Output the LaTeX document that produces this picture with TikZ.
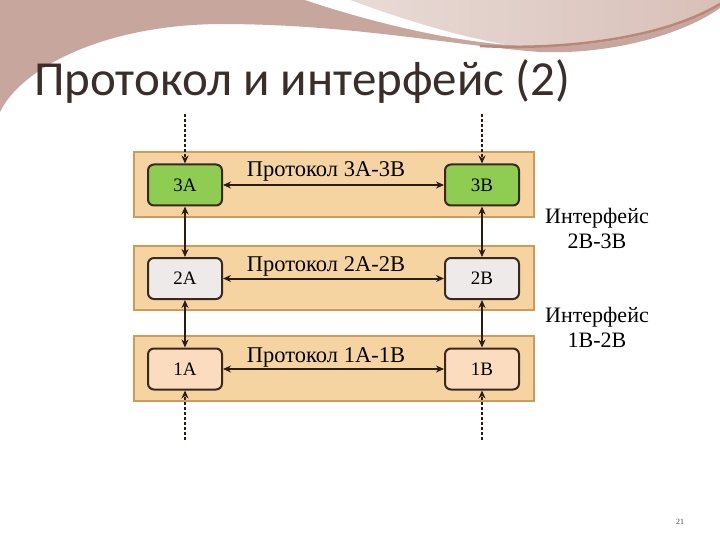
\documentclass[tikz,border=0pt]{standalone}
\usepackage{fontspec}
\setmainfont{Liberation Serif}
\newfontfamily\titlefont{Carlito}
\usetikzlibrary{arrows.meta}
\definecolor{pinkbg}{RGB}{199,167,157}
\definecolor{lightbg}{RGB}{216,192,184}
\definecolor{brownln}{RGB}{185,135,120}
\definecolor{bandfill}{RGB}{246,212,162}
\definecolor{banddraw}{RGB}{208,155,90}
\definecolor{greenbox}{RGB}{142,204,82}
\definecolor{graybox}{RGB}{238,234,233}
\definecolor{peachbox}{RGB}{251,220,190}
\definecolor{boxline}{RGB}{58,40,30}
\definecolor{arrowc}{RGB}{40,28,20}
\definecolor{titlec}{RGB}{58,46,42}
\tikzset{
  band/.style={fill=bandfill,draw=banddraw,line width=1.5pt},
  layerbox/.style={draw=boxline,line width=2pt,rounded corners=6pt,minimum width=74pt,minimum height=41pt,inner sep=0pt,font=\fontsize{19}{19}\selectfont},
  link/.style={draw=arrowc,line width=2pt,{Stealth[length=8pt,width=7pt]}-{Stealth[length=8pt,width=7pt]}},
  feed/.style={draw=arrowc,line width=2pt,dash pattern=on 3pt off 2pt,-{Stealth[length=8pt,width=7pt]}},
  prot/.style={anchor=base,font=\fontsize{22.5}{22.5}\selectfont,inner sep=0pt},
  intf/.style={anchor=base,font=\fontsize{22}{22}\selectfont,inner sep=0pt,align=center}
}
\begin{document}
\begin{tikzpicture}[x=1pt,y=-1pt]
\useasboundingbox (0,0) rectangle (720,540);
\fill[white] (0,0) rectangle (720,540);
% decoration
\fill[pinkbg] (0,112) .. controls (20,70) and (100,25) .. (220,24) .. controls (350,24) and (450,45) .. (540,52) .. controls (620,55) and (690,30) .. (720,8) -- (720,0) -- (0,0) -- cycle;
\shade[left color=lightbg!55!white,right color=lightbg] (330,0) .. controls (400,25) and (460,40) .. (520,46) .. controls (600,50) and (680,30) .. (720,5) -- (720,0) -- cycle;
\fill[white] (305,0) .. controls (380,25) and (450,40) .. (508,45) .. controls (450,35) and (390,15) .. (350,0) -- cycle;
\draw[brownln,line width=2.5pt] (480,46) .. controls (560,50) and (660,40) .. (720,4);
% title
\node[anchor=base west,inner sep=0pt,text=titlec,font=\titlefont\fontsize{49}{49}\selectfont] (title) at (34,96) {Протокол и интерфейс (2)};
% bands
\draw[band] (134,152) rectangle (534,217);
\draw[band] (134,246) rectangle (534,310);
\draw[band] (134,336) rectangle (534,401);
% boxes
\node[layerbox,fill=greenbox] (a3) at (185,185) {3A};
\node[layerbox,fill=greenbox] (b3) at (482,185) {3B};
\node[layerbox,fill=graybox] (a2) at (185,278.5) {2A};
\node[layerbox,fill=graybox] (b2) at (482,278.5) {2B};
\node[layerbox,fill=peachbox] (a1) at (185,369) {1A};
\node[layerbox,fill=peachbox] (b1) at (482,369) {1B};
% protocol labels
\node[prot] (p3) at (326,177) {Протокол 3A-3B};
\node[prot] (p2) at (326,271) {Протокол 2A-2B};
\node[prot] (p1) at (326,362) {Протокол 1A-1B};
% horizontal links
\draw[link] (a3.east) -- (b3.west);
\draw[link] (a2.east) -- (b2.west);
\draw[link] (a1.east) -- (b1.west);
% vertical links
\draw[link] (a3.south) -- (a2.north);
\draw[link] (a2.south) -- (a1.north);
\draw[link] (b3.south) -- (b2.north);
\draw[link] (b2.south) -- (b1.north);
% dashed feeds
\coordinate (ta) at (185,114);
\coordinate (tb) at (482,114);
\coordinate (ba) at (185,440);
\coordinate (bb) at (482,440);
\draw[feed] (ta) -- (a3.north);
\draw[feed] (tb) -- (b3.north);
\draw[feed] (ba) -- (a1.south);
\draw[feed] (bb) -- (b1.south);
% interface labels
\node[intf] (i23) at (597,224) {Интерфейс};
\node[intf] (i23b) at (597,248) {2B-3B};
\node[intf] (i12) at (597,322) {Интерфейс};
\node[intf] (i12b) at (597,347) {1B-2B};
% page number
\node[font=\fontsize{8}{8}\selectfont,text=black!70,inner sep=0pt] (pg) at (680,522) {21};
\end{tikzpicture}
\end{document}
